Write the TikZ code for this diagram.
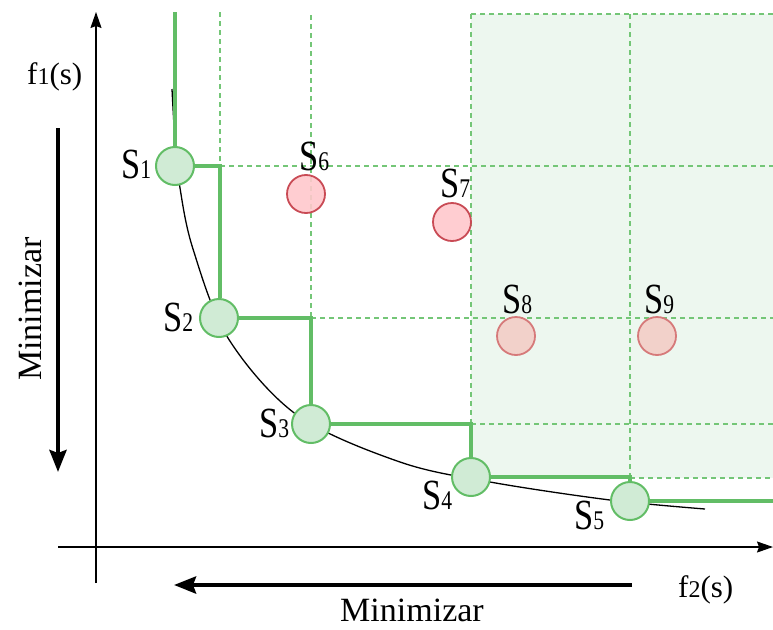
\documentclass[tikz,border=0pt]{standalone}
\usepackage{fontspec}
\setmainfont{Liberation Serif}
\newfontfamily\condfont[FakeStretch=0.8]{Liberation Serif}
\usetikzlibrary{arrows.meta}
\definecolor{gline}{HTML}{62BD66}
\definecolor{gdash}{HTML}{74C677}
\definecolor{gfill}{HTML}{D0EBD5}
\definecolor{shadecol}{HTML}{EDF7EF}
\definecolor{rline}{HTML}{C94B55}
\definecolor{rfill}{HTML}{FFC8CC}
\definecolor{rtwoline}{HTML}{D67A7A}
\definecolor{rtwofill}{HTML}{F2D1CA}
\newcommand{\slab}[1]{{\condfont\fontsize{43}{43}\selectfont S\fontsize{27}{27}\selectfont #1}}
\newcommand{\flab}[1]{{\fontsize{31}{31}\selectfont f\fontsize{24}{24}\selectfont #1\fontsize{31}{31}\selectfont(s)}}
\tikzset{
  dashg/.style={gdash, line width=1.4pt, dash pattern=on 5pt off 4pt},
  stair/.style={gline, line width=3.5pt},
  gsol/.style={circle, minimum size=38pt, inner sep=0pt, draw=gline, line width=2pt, fill=gfill},
  rsol/.style={circle, minimum size=38pt, inner sep=0pt, draw=rline, line width=1.8pt, fill=rfill, fill opacity=0.9},
  rsoltwo/.style={circle, minimum size=38pt, inner sep=0pt, draw=rtwoline, line width=1.8pt, fill=rtwofill},
  lab/.style={anchor=base west, inner sep=0pt, text opacity=1},
  bigarrow/.style={line width=4pt, -{Stealth[length=22pt,width=17pt,inset=3pt]}},
  axis/.style={line width=1.3pt, -{Stealth[length=16pt,width=11pt,inset=2pt]}}
}
\begin{document}
\begin{tikzpicture}[x=1pt,y=-1pt]
\useasboundingbox (0,0) rectangle (773,629);
% shaded dominated region
\fill[shadecol] (471,14) rectangle (773,478);
% dashed guide lines
\draw[dashg] (220,12) -- (220,166);
\draw[dashg] (311,15) -- (311,318);
\draw[dashg] (471,14) -- (773,14);
\draw[dashg] (471,14) -- (471,478);
\draw[dashg] (630,14) -- (630,479);
\draw[dashg] (220,166) -- (773,166);
\draw[dashg] (311,318) -- (773,318);
\draw[dashg] (471,424) -- (773,424);
\draw[dashg] (630,478) -- (773,478);
% axes
\coordinate (yb) at (96,583);
\coordinate (yt) at (96,12);
\coordinate (xl) at (58,547);
\coordinate (xr) at (773,547);
\draw[axis] (yb) -- (yt);
\draw[axis] (xl) -- (xr);
% minimize arrows
\coordinate (la) at (58,128);
\coordinate (lb) at (58,472);
\coordinate (ba) at (632,585);
\coordinate (bb) at (174,585);
\draw[bigarrow] (la) -- (lb);
\draw[bigarrow] (ba) -- (bb);
% Pareto front curve
\draw[black, line width=1.3pt] plot[smooth, tension=0.55] coordinates {(172,89) (175,140) (180,188) (193,249) (228,338) (297,415) (400,462) (490,482) (610,500) (705,509)};
% solutions
\node[gsol] (s1) at (175,166) {};
\node[gsol] (s2) at (219,318) {};
\node[gsol] (s3) at (311,424) {};
\node[gsol] (s4) at (471,477) {};
\node[gsol] (s5) at (630,501) {};
\node[rsol] (s6) at (306,194) {};
\node[rsol] (s7) at (452,222) {};
\node[rsoltwo] (s8) at (516,336) {};
\node[rsoltwo] (s9) at (657,336) {};
% staircase
\coordinate (t1) at (175,12);
\coordinate (c1) at (220,166);
\coordinate (c2) at (311,318);
\coordinate (c3) at (471,424);
\coordinate (c4) at (630,477);
\coordinate (e5) at (773,501);
\draw[stair] (t1) -- (s1.north);
\draw[stair] (s1.east) -- (c1) -- (c1 |- s2.north);
\draw[stair] (s2.east) -- (c2) -- (s3.north);
\draw[stair] (s3.east) -- (c3) -- (s4.north);
\draw[stair] (s4.east) -- (c4) -- (s5.north);
\draw[stair] (s5.east) -- (e5);
% labels
\node[lab] (l1) at (121,178) {\slab{1}};
\node[lab] (l2) at (163,331) {\slab{2}};
\node[lab] (l3) at (259,437) {\slab{3}};
\node[lab] (l4) at (422,509) {\slab{4}};
\node[lab] (l5) at (574,529) {\slab{5}};
\node[lab] (l6) at (299,170) {\slab{6}};
\node[lab] (l7) at (440,197) {\slab{7}};
\node[lab] (l8) at (502,313) {\slab{8}};
\node[lab] (l9) at (644,313) {\slab{9}};
\node[lab] (f1) at (27,84) {\flab{1}};
\node[lab] (f2) at (678,597) {\flab{2}};
\node[anchor=base, inner sep=0pt] (m1) at (412,621) {\fontsize{34}{34}\selectfont Minimizar};
\node[anchor=base, inner sep=0pt, rotate=90] (m2) at (41,309) {\fontsize{34}{34}\selectfont Minimizar};
\end{tikzpicture}
\end{document}
